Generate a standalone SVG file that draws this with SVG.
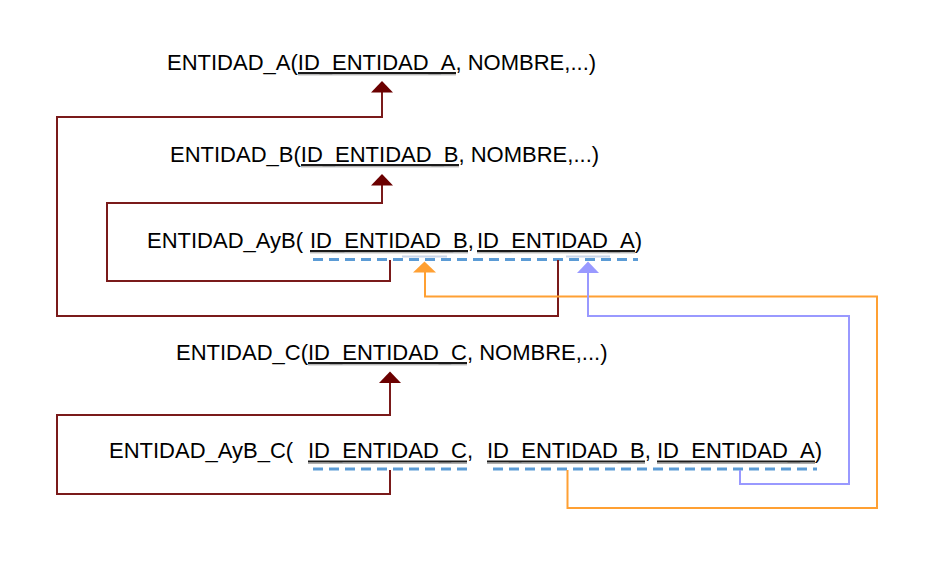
<svg xmlns="http://www.w3.org/2000/svg" width="934" height="568" viewBox="0 0 934 568">
<style>
  text { font-family: "Liberation Sans", Arial, sans-serif; font-size: 22px; fill: #000; }
  .ul { stroke: #1a1a1a; stroke-width: 2; }
  .uls { stroke: #9a9a9a; stroke-width: 1; }
  .dash { stroke: #5b9bd5; stroke-width: 3; stroke-dasharray: 10 6; fill: none; }
  .faint { stroke: #c9d6ea; stroke-width: 2; }
  .red { stroke: #7a1a1a; stroke-width: 2; fill: none; }
  .org { stroke: #ffa033; stroke-width: 2; fill: none; }
  .pur { stroke: #9999ff; stroke-width: 2; fill: none; }
  .redh { fill: #6b0000; }
  .orgh { fill: #ffa033; }
  .purh { fill: #9999ff; }
</style>
<rect width="934" height="568" fill="#fff"/>

<g id="entidad_a">
  <text x="167" y="70">ENTIDAD_A(ID_ENTIDAD_A, NOMBRE,...)</text>
  <line class="ul" x1="298" y1="73" x2="456" y2="73"/>
  <line class="uls" x1="298" y1="74.8" x2="456" y2="74.8"/>
</g>

<g id="entidad_b">
  <text x="170" y="162">ENTIDAD_B(ID_ENTIDAD_B, NOMBRE,...)</text>
  <line class="ul" x1="301" y1="165" x2="459" y2="165"/>
  <line class="uls" x1="301" y1="166.8" x2="459" y2="166.8"/>
</g>

<g id="entidad_ayb">
  <text x="147" y="248">ENTIDAD_AyB(<tspan x="310">ID_ENTIDAD_B,</tspan><tspan x="477">ID_ENTIDAD_A)</tspan></text>
  <line class="ul" x1="310" y1="251" x2="468" y2="251"/>
  <line class="ul" x1="477" y1="251" x2="635" y2="251"/>
  <line class="uls" x1="310" y1="252.8" x2="468" y2="252.8"/>
  <line class="uls" x1="477" y1="252.8" x2="635" y2="252.8"/>
  <line class="faint" x1="402" y1="256.5" x2="447" y2="256.5"/>
  <line class="faint" x1="566" y1="256.5" x2="610" y2="256.5"/>
  <line class="dash" x1="313" y1="259.5" x2="638" y2="259.5"/>
</g>

<g id="entidad_c">
  <text x="176" y="360">ENTIDAD_C(ID_ENTIDAD_C, NOMBRE,...)</text>
  <line class="ul" x1="308" y1="363" x2="467" y2="363"/>
  <line class="uls" x1="308" y1="364.8" x2="467" y2="364.8"/>
</g>

<g id="entidad_ayb_c">
  <text x="109" y="458">ENTIDAD_AyB_C(<tspan x="308">ID_ENTIDAD_C,</tspan><tspan x="487">ID_ENTIDAD_B,</tspan><tspan x="657">ID_ENTIDAD_A)</tspan></text>
  <line class="ul" x1="308" y1="461.5" x2="467" y2="461.5"/>
  <line class="ul" x1="487" y1="461.5" x2="645" y2="461.5"/>
  <line class="ul" x1="657" y1="461.5" x2="815" y2="461.5"/>
  <line class="uls" x1="308" y1="463.3" x2="467" y2="463.3"/>
  <line class="uls" x1="487" y1="463.3" x2="645" y2="463.3"/>
  <line class="uls" x1="657" y1="463.3" x2="815" y2="463.3"/>
  <line class="dash" x1="313" y1="469" x2="470" y2="469"/>
  <line class="dash" x1="493" y1="469" x2="817" y2="469"/>
</g>

<g id="connectors">
  <path class="red" d="M558,260 V316 H57 V117 H382 V92"/>
  <polygon class="redh" points="371,92.5 393,92.5 382,81"/>
  <path class="red" d="M390,260 V281 H107 V203 H382 V185"/>
  <polygon class="redh" points="371,185.5 393,185.5 382,174"/>
  <path class="red" d="M390,470 V494 H57 V415 H390 V382"/>
  <polygon class="redh" points="379,383 401,383 390,371.5"/>
  <path class="org" d="M567.5,470 V508 H877 V296.5 H425 V272"/>
  <polygon class="orgh" points="413,272.5 436,272.5 424.5,261.5"/>
  <path class="pur" d="M740,470 V484 H849 V316 H588 V272"/>
  <polygon class="purh" points="577,273 599,273 588,261.5"/>
</g>
</svg>
